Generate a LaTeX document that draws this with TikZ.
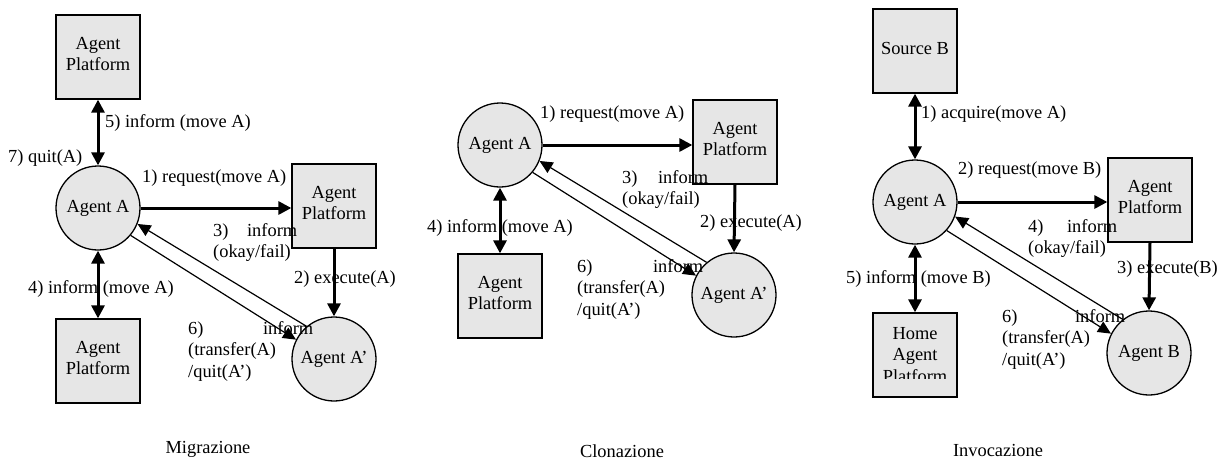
\documentclass[tikz,border=0pt]{standalone}
\usepackage{fontspec}
\setmainfont{Liberation Serif}
\usetikzlibrary{arrows.meta}
\definecolor{boxfill}{RGB}{230,230,230}
\begin{document}
\begin{tikzpicture}[x=1pt,y=-1pt,
  every node/.style={font=\fontsize{18.4}{21.5}\selectfont},
  platform/.style={draw, line width=1.3pt, fill=boxfill, minimum size=84pt, inner sep=0pt, align=center, text depth=6pt},
  agent/.style={draw, circle, line width=1.3pt, fill=boxfill, minimum size=84pt, inner sep=0pt},
  bold/.style={line width=3pt, -{Triangle[length=13pt,width=13pt]}},
  boldboth/.style={line width=3pt, {Triangle[length=13pt,width=13pt]}-{Triangle[length=13pt,width=13pt]}},
  slim/.style={line width=1.2pt, -{Triangle[length=13pt,width=12pt]}},
  lbl/.style={inner sep=0pt, anchor=base west, align=left},
  caption/.style={inner sep=0pt},
]
\useasboundingbox (0,0) rectangle (1232,461);

% ---------------- Migrazione ----------------
\node[platform] (mTop) at (98,57) {Agent\\Platform};
\node[agent] (mA) at (98,208) {Agent A};
\node[platform] (mRight) at (334,206) {Agent\\Platform};
\node[agent] (mA2) at (334,359) {Agent A’};
\node[platform] (mBot) at (98,361) {Agent\\Platform};

\draw[boldboth] (mTop.south) -- (mA.north);
\draw[bold] (mA.east) -- (mA.east -| mRight.west);
\draw[bold] (mRight.south) -- (mA2.north);
\draw[boldboth] (mA.south) -- (mBot.north);
\draw[slim] (mA2.130) -- (mA.-22);
\draw[slim] (mA.-40) -- (mA2.153);

% multi-line labels: the base anchor sits on the last line
\node[lbl] (m5) at (105,127) {5) inform (move A)};
\node[lbl] (m7) at (8,162) {7) quit(A)};
\node[lbl] (m1) at (142,182) {1) request(move A)};
\node[lbl] (m3) at (213,257.5) {\makebox[84pt][l]{3)\hfill inform}\\(okay/fail)};
\node[lbl] (m2) at (294,283) {2) execute(A)};
\node[lbl] (m4) at (28,293) {4) inform (move A)};
\node[lbl] (m6) at (188,377) {\makebox[125pt][l]{6)\hfill inform}\\(transfer(A)\\/quit(A’)};
\node[caption] (mCap) at (208,449) {Migrazione};

% ---------------- Clonazione ----------------
\node[agent] (cA) at (500,145) {Agent A};
\node[platform] (cRight) at (735,142) {Agent\\Platform};
\node[agent] (cA2) at (734,295) {Agent A’};
\node[platform] (cBot) at (500,296) {Agent\\Platform};

\draw[bold] (cA.east) -- (cA.east -| cRight.west);
\draw[bold] (cRight.south) -- (cA2.north);
\draw[boldboth] (cA.south) -- (cBot.north);
\draw[slim] (cA2.130) -- (cA.-22);
\draw[slim] (cA.-40) -- (cA2.153);

\node[lbl] (c1) at (540,118) {1) request(move A)};
\node[lbl] (c2) at (700,227) {2) execute(A)};
\node[lbl] (c4) at (427,232) {4) inform (move A)};
\node[lbl] (c3) at (622,204.5) {\makebox[86pt][l]{3)\hfill inform}\\(okay/fail)};
\node[lbl] (c6) at (577,315) {\makebox[126pt][l]{6)\hfill inform}\\(transfer(A)\\/quit(A’)};
\node[caption] (cCap) at (622,451) {Clonazione};

% ---------------- Invocazione ----------------
\node[platform] (iSrc) at (915,51) {Source B};
\node[agent] (iA) at (915,202) {Agent A};
\node[platform] (iRight) at (1150,200) {Agent\\Platform};
\node[agent] (iB) at (1149,353) {Agent B};
\node[platform] (iHome) at (915,355) {};
\begin{scope}
  \clip (873,316) rectangle (953,378);
  \node[align=center, inner sep=0pt] (iHomeText) at (915,355) {Home\\Agent\\Platform};
\end{scope}

\draw[boldboth] (iSrc.south) -- (iA.north);
\draw[bold] (iA.east) -- (iA.east -| iRight.west);
\draw[bold] (iRight.south) -- (iB.north);
\draw[boldboth] (iA.south) -- (iHome.north);
\draw[slim] (iB.128) -- (iA.-20);
\draw[slim] (iA.-42) -- (iB.153);

\node[lbl] (i1) at (921,118) {1) acquire(move A)};
\node[lbl] (i2) at (958,174) {2) request(move B)};
\node[lbl] (i3) at (1117,273) {3) execute(B)};
\node[lbl] (i5) at (846,283) {5) inform (move B)};
\node[lbl] (i4) at (1028,253.5) {\makebox[89pt][l]{4)\hfill inform}\\(okay/fail)};
\node[lbl] (i6) at (1002,365) {\makebox[123pt][l]{6)\hfill inform}\\(transfer(A)\\/quit(A’)};
\node[caption] (iCap) at (998,450) {Invocazione};
\end{tikzpicture}
\end{document}
